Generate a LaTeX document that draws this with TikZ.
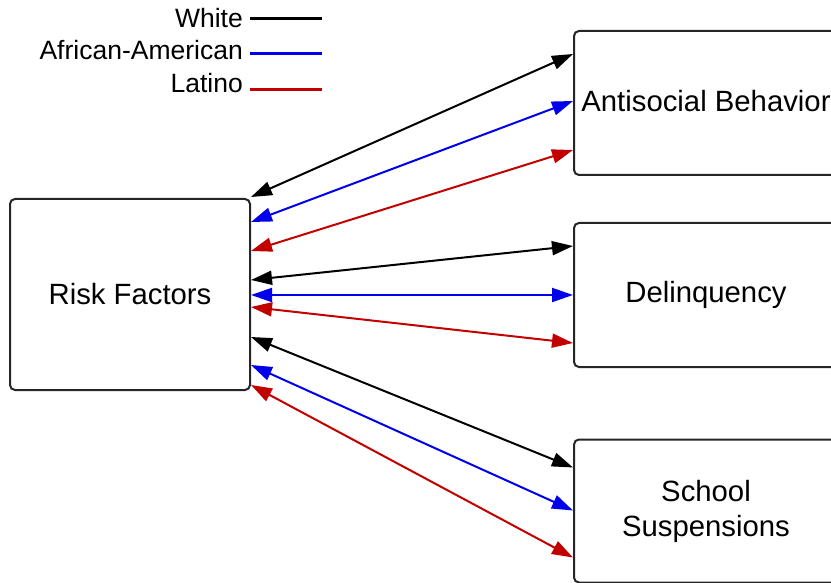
\documentclass[tikz,border=0pt]{standalone}
\usepackage{fontspec}
\setmainfont{Liberation Sans}
\usetikzlibrary{arrows.meta,calc}
\definecolor{aablue}{RGB}{0,0,235}
\definecolor{latred}{RGB}{195,0,0}
\tikzset{
  box/.style={draw=black!85, line width=2pt, rounded corners=5pt, fill=white,
    align=center, font=\fontsize{29.3}{35}\selectfont, inner sep=0pt},
  conn/.style={line width=2pt, {Triangle[length=21pt,width=14pt]}-{Triangle[length=21pt,width=14pt]}},
  legtext/.style={anchor=east, font=\fontsize{26.5}{30}\selectfont, inner sep=0pt},
  legline/.style={line width=3pt}
}
\begin{document}
\begin{tikzpicture}[x=1pt,y=-1pt]
\useasboundingbox (0,0) rectangle (831,583);
\clip (0,0) rectangle (831,583);
% boxes
\node[box, minimum width=240pt, minimum height=191pt] (rf) at (130,294.5) {\raisebox{2pt}{Risk Factors}};
\node[box, minimum width=264pt, minimum height=144pt] (ab) at (706,103) {\raisebox{5pt}{Antisocial Behavior}};
\node[box, minimum width=264pt, minimum height=144pt] (dq) at (706,295) {Delinquency};
\node[box, minimum width=264pt, minimum height=143pt] (ss) at (706,511) {School\\Suspensions};
% connectors: antisocial
\draw[conn, black]   ($(rf.north east)+(0,-1)$) -- ($(ab.north west)+(0,24)$);
\draw[conn, aablue]  ($(rf.north east)+(0,24)$) -- ($(ab.north west)+(0,71)$);
\draw[conn, latred]  ($(rf.north east)+(0,53)$) -- ($(ab.north west)+(0,120)$);
% delinquency
\draw[conn, black]   ($(rf.north east)+(0,82)$) -- ($(dq.north west)+(0,24)$);
\draw[conn, aablue]  ($(rf.north east)+(0,97)$) -- ($(dq.north west)+(0,73)$);
\draw[conn, latred]  ($(rf.north east)+(0,109)$) -- ($(dq.north west)+(0,121)$);
% school suspensions
\draw[conn, black]   ($(rf.north east)+(0,139)$) -- ($(ss.north west)+(0,29)$);
\draw[conn, aablue]  ($(rf.north east)+(0,167)$) -- ($(ss.north west)+(0,72)$);
\draw[conn, latred]  ($(rf.north east)+(0,187)$) -- ($(ss.north west)+(0,119)$);
% legend
\node[legtext] (lw) at (243,18) {White};
\node[legtext] (la) at (243,50) {African-American};
\node[legtext] (ll) at (243,83) {Latino};
\coordinate (lwe) at (322,19);
\coordinate (lae) at (322,54);
\coordinate (lle) at (322,90);
\draw[legline, black]  ([xshift=7pt]lw.east |- lwe) -- (lwe);
\draw[legline, aablue] ([xshift=7pt]la.east |- lae) -- (lae);
\draw[legline, latred] ([xshift=7pt]ll.east |- lle) -- (lle);
\end{tikzpicture}
\end{document}
